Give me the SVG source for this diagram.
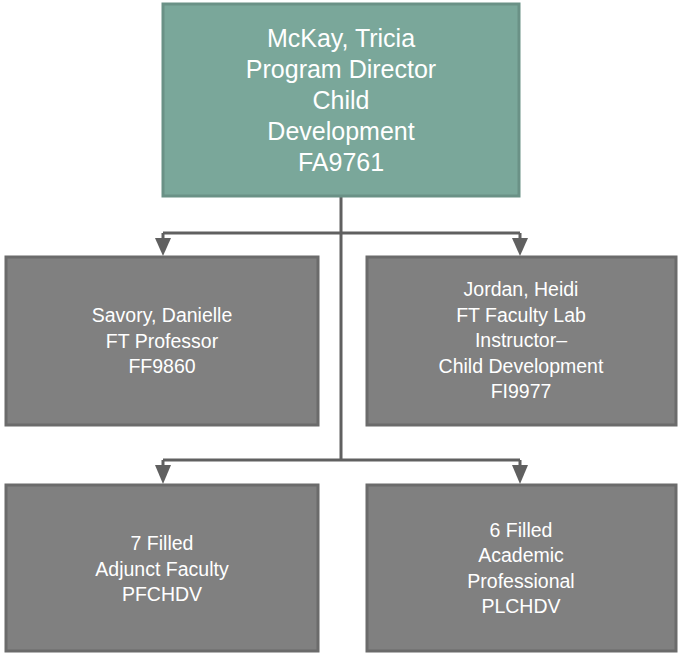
<svg xmlns="http://www.w3.org/2000/svg" width="680" height="655" viewBox="0 0 680 655">
<style>
.top{fill:#7aa79a;stroke:#6a9186;stroke-width:3}
.box{fill:#808080;stroke:#6b6b6b;stroke-width:3}
.t{font-family:"Liberation Sans",Arial,sans-serif;fill:#ffffff;text-anchor:middle}
.big{font-size:25px}
.sm{font-size:19.5px}
.c{fill:none;stroke:#606060;stroke-width:3}
.ah{fill:#606060}
</style>
<g id="connectors">
<path class="c" d="M341,197 V460"/>
<path class="c" d="M163,233 H520"/>
<path class="c" d="M163,233 V240"/>
<path class="c" d="M520,233 V240"/>
<polygon class="ah" points="155,238 171,238 163,256"/>
<polygon class="ah" points="512,238 528,238 520,256"/>
<path class="c" d="M163,460 H520"/>
<path class="c" d="M163,460 V467"/>
<path class="c" d="M520,460 V467"/>
<polygon class="ah" points="155,465 171,465 163,484"/>
<polygon class="ah" points="512,465 528,465 520,484"/>
</g>
<g id="mckay">
<rect class="top" x="163" y="4" width="356" height="192"/>
<text class="t big" x="341" y="47">McKay, Tricia</text>
<text class="t big" x="341" y="78">Program Director</text>
<text class="t big" x="341" y="109">Child</text>
<text class="t big" x="341" y="140">Development</text>
<text class="t big" x="341" y="171">FA9761</text>
</g>
<g id="savory">
<rect class="box" x="6" y="257" width="312" height="168"/>
<text class="t sm" x="162" y="322">Savory, Danielle</text>
<text class="t sm" x="162" y="348">FT Professor</text>
<text class="t sm" x="162" y="373">FF9860</text>
</g>
<g id="jordan">
<rect class="box" x="367" y="257" width="309" height="168"/>
<text class="t sm" x="521" y="296">Jordan, Heidi</text>
<text class="t sm" x="521" y="322">FT Faculty Lab</text>
<text class="t sm" x="521" y="347">Instructor–</text>
<text class="t sm" x="521" y="373">Child Development</text>
<text class="t sm" x="521" y="398">FI9977</text>
</g>
<g id="adjunct">
<rect class="box" x="6" y="485" width="312" height="166"/>
<text class="t sm" x="162" y="550">7 Filled</text>
<text class="t sm" x="162" y="576">Adjunct Faculty</text>
<text class="t sm" x="162" y="601">PFCHDV</text>
</g>
<g id="academic">
<rect class="box" x="367" y="485" width="309" height="166"/>
<text class="t sm" x="521" y="537">6 Filled</text>
<text class="t sm" x="521" y="562">Academic</text>
<text class="t sm" x="521" y="588">Professional</text>
<text class="t sm" x="521" y="613">PLCHDV</text>
</g>
</svg>
